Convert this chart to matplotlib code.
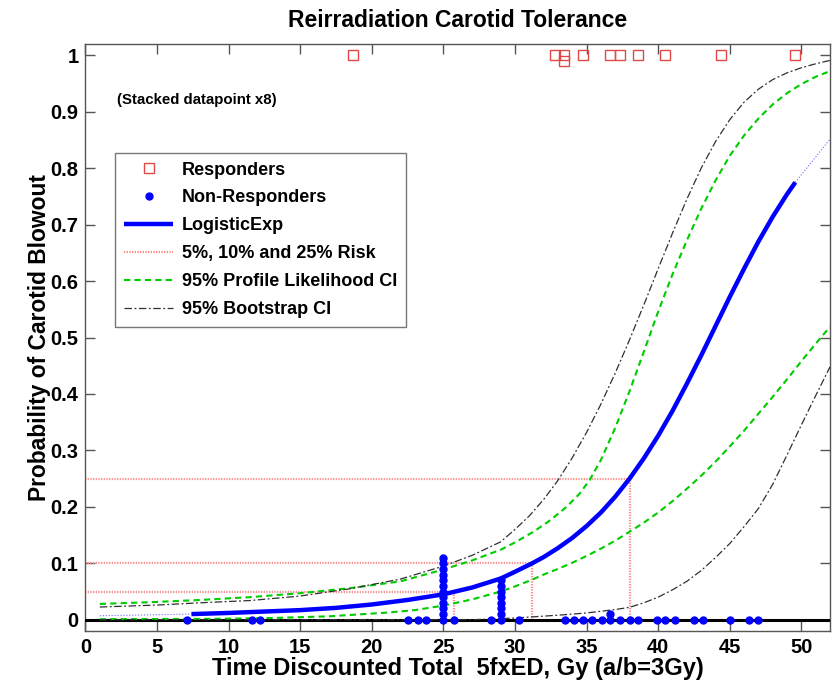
import matplotlib
matplotlib.use("Agg")
import matplotlib.pyplot as plt
import numpy as np

plt.rcParams['font.family'] = ['Liberation Sans', 'DejaVu Sans']
plt.rcParams['font.weight'] = 'bold'

# responders (complication), stacked duplicates listed by count
resp_dose = [18.65, 32.8, 33.45, 34.75, 36.65, 37.3, 38.6, 40.5, 44.4, 49.55]
resp_count = [1, 1, 2, 1, 1, 1, 1, 1, 1, 1]

# non-responders
nonresp_dose = [7.1, 11.6, 12.2, 22.55, 23.2, 23.8, 25.0, 25.75, 28.3, 29.0,
                30.25, 33.5, 34.1, 34.75, 35.4, 36.05, 36.65, 37.3, 38.0, 38.6,
                39.9, 40.5, 41.15, 42.5, 43.1, 45.05, 46.35, 46.95]
nonresp_count = [1, 1, 1, 1, 1, 1, 12, 1, 1, 8,
                 1, 1, 1, 1, 1, 1, 2, 1, 1, 1,
                 1, 1, 1, 1, 1, 1, 1, 1]
stack_step = 0.01

# fitted LogisticExp curve
fit_x = [7.4, 10, 12.5, 15, 17.5, 20, 22.5, 25, 27, 29, 30, 31.2, 32, 33, 34, 35, 36, 37, 38,
         39, 40, 41, 42, 43, 44, 45, 46, 47, 48, 49, 49.58]
fit_y = [0.010, 0.012, 0.0145, 0.017, 0.021, 0.027, 0.035, 0.045, 0.057, 0.073, 0.085, 0.10,
         0.111, 0.127, 0.145, 0.166, 0.19, 0.218, 0.25, 0.286, 0.326, 0.37, 0.418, 0.468, 0.52,
         0.572, 0.622, 0.67, 0.714, 0.754, 0.775]
ext_lo_x = [1.0, 7.4]
ext_lo_y = [0.007, 0.010]
ext_hi_x = [49.58, 51.95]
ext_hi_y = [0.775, 0.85]

# risk levels and the doses where the fit reaches them
risk_level = [0.05, 0.10, 0.25]
risk_dose = [25.75, 31.2, 38.0]

# 95% profile likelihood CI
pl_up_x = [1.0, 4.5, 8, 11.5, 15, 18.5, 22, 25, 27, 29, 30, 31.3, 32.5, 33.6, 34.5, 35.2,
           36, 37, 38, 39, 40, 41, 42, 43, 44, 45, 46, 47, 48, 49, 50, 51, 52]
pl_up_y = [0.028, 0.031, 0.035, 0.040, 0.047, 0.056, 0.068, 0.089, 0.105, 0.124, 0.137,
           0.156, 0.177, 0.200, 0.223, 0.247, 0.283, 0.34, 0.405, 0.475, 0.546, 0.612, 0.672,
           0.728, 0.778, 0.822, 0.858, 0.888, 0.913, 0.933, 0.949, 0.962, 0.972]
pl_lo_x = [1, 9, 13, 17, 21, 23, 25, 27, 29, 30, 31.2, 32, 33, 34, 35, 36, 37, 38, 39, 40,
           41, 42, 43, 44, 45, 46, 47, 48, 49, 50, 51, 52]
pl_lo_y = [0.001, 0.0015, 0.003, 0.006, 0.0125, 0.017, 0.025, 0.036, 0.05, 0.059, 0.071,
           0.08, 0.09, 0.101, 0.113, 0.126, 0.14, 0.156, 0.172, 0.19, 0.21, 0.232, 0.255,
           0.28, 0.307, 0.335, 0.365, 0.395, 0.426, 0.458, 0.489, 0.519]

# 95% bootstrap CI
bs_up_x = [1, 5, 8, 11.5, 15, 18.5, 22, 25, 27, 29, 30, 31, 32, 33, 34, 35, 36, 37, 38,
           39, 40, 41, 42, 43, 44, 45, 46, 47, 48, 49, 50, 51, 52]
bs_up_y = [0.0225, 0.026, 0.03, 0.034, 0.042, 0.055, 0.072, 0.095, 0.114, 0.138, 0.16,
           0.184, 0.213, 0.247, 0.287, 0.332, 0.382, 0.437, 0.496, 0.558, 0.622, 0.685, 0.745,
           0.80, 0.847, 0.886, 0.917, 0.94, 0.957, 0.969, 0.978, 0.985, 0.991]
bs_lo_x = [1, 27, 30, 33, 35, 36, 37, 38, 39, 40, 41, 42, 43, 44, 45, 46, 47, 48, 49, 50, 51, 52]
bs_lo_y = [0.0, 0.0, 0.003, 0.008, 0.012, 0.015, 0.018, 0.022, 0.03, 0.04, 0.053, 0.068,
           0.087, 0.11, 0.135, 0.165, 0.197, 0.24, 0.292, 0.345, 0.397, 0.448]

fig = plt.figure(figsize=(8.34, 6.87), dpi=100)
ax = fig.add_axes([0.1025, 0.0815, 0.8927, 0.8544])

red = '#e04848'
blue = '#0000ff'
green = '#00cc00'
risk_col = '#ff9090'
boot_col = '#303030'
risk_ls = (0, (0.6, 0.6))
pl_ls = (0, (3, 2))
bs_ls = (0, (6, 2, 1.5, 2))

# stacked points
rx, ry = [], []
for d, c in zip(resp_dose, resp_count):
    for k in range(c):
        rx.append(d)
        ry.append(1.0 - k * stack_step)
nx, ny = [], []
for d, c in zip(nonresp_dose, nonresp_count):
    for k in range(c):
        nx.append(d)
        ny.append(k * stack_step)

# risk lines
for lev, dose in zip(risk_level, risk_dose):
    ax.plot([0, dose], [lev, lev], color=risk_col, lw=1.6, ls=risk_ls, zorder=2)
    ax.plot([dose, dose], [0, lev], color=risk_col, lw=1.6, ls=risk_ls, zorder=2)

ax.axhline(0, color='black', lw=2.2, zorder=3)

ax.plot(rx, ry, ls='none', marker='s', ms=7.5, mfc='none', mec=red, mew=1.0,
        label='Responders', zorder=5)
ax.plot(nx, ny, ls='none', marker='o', ms=5, color=blue,
        label='Non-Responders', zorder=6)
ax.plot(fit_x, fit_y, color=blue, lw=3.2, label='LogisticExp', zorder=4,
        solid_capstyle='butt', solid_joinstyle='round')
ax.plot(ext_lo_x, ext_lo_y, color=blue, lw=0.8, ls=':', alpha=0.6, zorder=4)
ax.plot(ext_hi_x, ext_hi_y, color=blue, lw=0.8, ls=':', alpha=0.6, zorder=4)

ax.plot([], [], color=risk_col, lw=1.6, ls=risk_ls, label='5%, 10% and 25% Risk')
ax.plot(pl_up_x, pl_up_y, color=green, lw=1.5, ls=pl_ls,
        label='95% Profile Likelihood CI', zorder=4)
ax.plot(pl_lo_x, pl_lo_y, color=green, lw=1.5, ls=pl_ls, zorder=4)
ax.plot(bs_up_x, bs_up_y, color=boot_col, lw=0.9, ls=bs_ls,
        label='95% Bootstrap CI', zorder=4)
ax.plot(bs_lo_x, bs_lo_y, color=boot_col, lw=0.9, ls=bs_ls, zorder=4)

ax.set_xlim(0, 52)
ax.set_ylim(-0.02, 1.02)
ax.set_xticks(np.arange(0, 51, 5))
ax.set_yticks(np.arange(0, 1.01, 0.1))
ax.set_yticklabels(['0', '0.1', '0.2', '0.3', '0.4', '0.5', '0.6', '0.7', '0.8', '0.9', '1'])
ax.tick_params(direction='in', length=7, width=1, colors='#555555', labelcolor='black',
               labelsize=14.5, top=True, right=True, pad=5)
for s in ax.spines.values():
    s.set_color('#555555')
    s.set_linewidth(1.0)

ax.set_title('Reirradiation Carotid Tolerance', fontsize=16.5, fontweight='bold', pad=12)
ax.set_xlabel('Time Discounted Total  5fxED, Gy (a/b=3Gy)', fontsize=17,
              fontweight='bold', labelpad=0)
ax.set_ylabel('Probability of Carotid Blowout', fontsize=16.4, fontweight='bold', labelpad=-0.5)

ax.text(2.2, 0.92, '(Stacked datapoint x8)', fontsize=10.8, fontweight='bold',
        va='center', ha='left')

leg = ax.legend(loc='upper left', bbox_to_anchor=(0.04, 0.815), fontsize=13,
                frameon=True, fancybox=False, edgecolor='#555555', handlelength=2.7,
                borderpad=0.5, labelspacing=0.6, handletextpad=0.5, borderaxespad=0)
leg.get_frame().set_linewidth(1.0)

fig.savefig('out.png', dpi=100)
